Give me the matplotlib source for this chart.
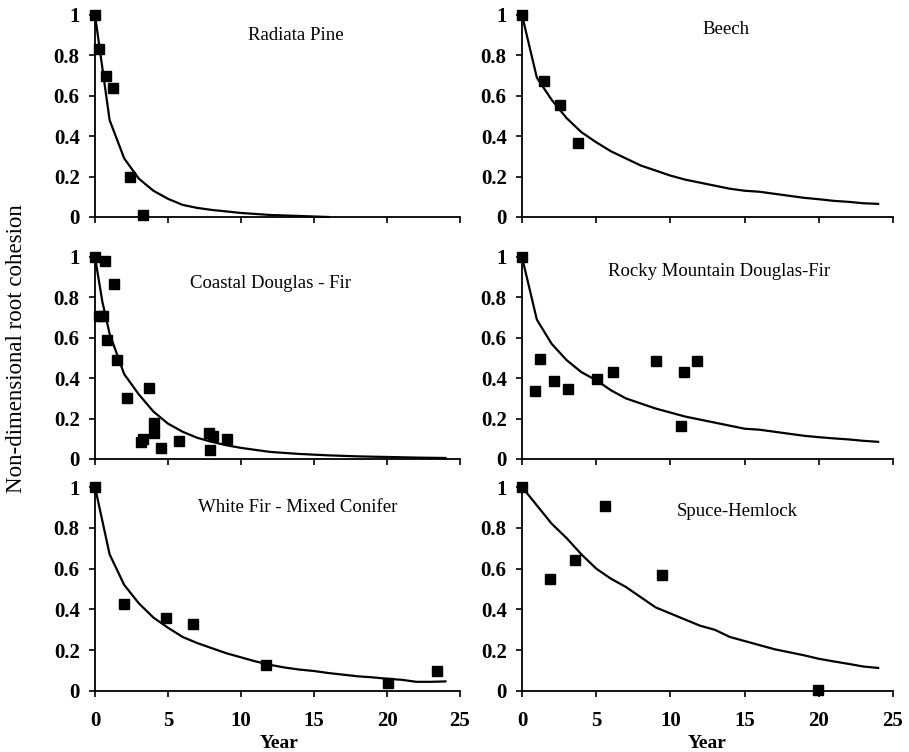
import matplotlib
matplotlib.use("Agg")
import matplotlib.pyplot as plt

plt.rcParams['font.family'] = ['Liberation Serif', 'DejaVu Serif']

#######################################
# Data
#######################################
names = ["Radiata Pine", "Beech", "Coastal Douglas - Fir",
         "Rocky Mountain Douglas-Fir", "White Fir - Mixed Conifer", "Spuce-Hemlock"]

# observed points
radiata_x = [0, 0.25, 0.75, 1.2, 2.4, 3.3]
radiata_y = [1.0, 0.83, 0.70, 0.64, 0.20, 0.01]
beech_x = [0, 1.45, 2.55, 3.75]
beech_y = [1.0, 0.675, 0.555, 0.368]
coastal_x = [0, 0.3, 0.55, 0.66, 0.8, 1.3, 1.52, 2.16, 3.12, 3.28, 3.69, 4.07, 4.07, 4.55, 5.78, 7.83, 7.85, 8.05, 9.03]
coastal_y = [1.0, 0.71, 0.71, 0.98, 0.587, 0.868, 0.488, 0.30, 0.083, 0.097, 0.353, 0.18, 0.13, 0.054, 0.089, 0.129, 0.046, 0.112, 0.099]
rocky_x = [0, 0.9, 1.19, 2.13, 3.1, 5.06, 6.13, 9.03, 10.74, 10.94, 11.8]
rocky_y = [1.0, 0.336, 0.493, 0.384, 0.349, 0.397, 0.433, 0.487, 0.163, 0.433, 0.487]
whitefir_x = [0, 1.96, 4.85, 6.74, 11.7, 20.1, 23.45]
whitefir_y = [1.0, 0.425, 0.358, 0.328, 0.126, 0.039, 0.10]
spruce_x = [0, 1.86, 3.59, 5.56, 9.42, 19.96]
spruce_y = [1.0, 0.549, 0.64, 0.905, 0.57, 0.003]

# fitted curves
radiata_cx = [0, 1, 2, 3, 4, 5, 6, 7, 8, 10, 12, 14, 16]
radiata_cy = [1.0, 0.48, 0.29, 0.19, 0.13, 0.09, 0.06, 0.045, 0.035, 0.02, 0.01, 0.005, 0.0]
years = list(range(25))
beech_cy = [1.0, 0.69, 0.58, 0.49, 0.42, 0.37, 0.325, 0.29, 0.255, 0.23, 0.205, 0.185, 0.17,
            0.155, 0.14, 0.13, 0.125, 0.115, 0.105, 0.095, 0.088, 0.08, 0.075, 0.068, 0.065]
coastal_cx = [0, 0.5, 1, 2, 3, 4, 5, 6, 7, 8, 9, 10, 12, 14, 16, 18, 20, 22, 24]
coastal_cy = [1.0, 0.78, 0.62, 0.42, 0.32, 0.235, 0.175, 0.135, 0.105, 0.085, 0.068, 0.055,
              0.035, 0.025, 0.018, 0.013, 0.01, 0.007, 0.005]
rocky_cy = [1.0, 0.69, 0.57, 0.49, 0.43, 0.39, 0.34, 0.30, 0.275, 0.25, 0.23, 0.21, 0.195,
            0.18, 0.165, 0.15, 0.145, 0.135, 0.125, 0.115, 0.108, 0.102, 0.097, 0.09, 0.085]
whitefir_cy = [1.0, 0.67, 0.52, 0.43, 0.36, 0.31, 0.265, 0.235, 0.21, 0.185, 0.165, 0.145, 0.128,
               0.115, 0.105, 0.098, 0.088, 0.08, 0.072, 0.067, 0.06, 0.055, 0.045, 0.045, 0.047]
spruce_cy = [1.0, 0.91, 0.82, 0.75, 0.67, 0.6, 0.55, 0.51, 0.46, 0.41, 0.38, 0.35, 0.32,
             0.30, 0.265, 0.245, 0.225, 0.205, 0.19, 0.175, 0.158, 0.145, 0.133, 0.12, 0.113]

points = [(radiata_x, radiata_y), (beech_x, beech_y), (coastal_x, coastal_y),
          (rocky_x, rocky_y), (whitefir_x, whitefir_y), (spruce_x, spruce_y)]
curves = [(radiata_cx, radiata_cy), (years, beech_cy), (coastal_cx, coastal_cy),
          (years, rocky_cy), (years, whitefir_cy), (years, spruce_cy)]
title_pos = [(0.55, 0.90), (0.55, 0.93), (0.48, 0.87), (0.53, 0.93), (0.556, 0.90), (0.58, 0.88)]

#######################################
# Layout
#######################################
W, H = 909, 752
col_x = [(95, 460), (522, 893)]
row_y = [(15, 217), (257, 459), (487, 691)]

fig = plt.figure(figsize=(W / 100, H / 100), dpi=100)

for i in range(6):
    r, c = divmod(i, 2)
    x0, x1 = col_x[c]
    y0, y1 = row_y[r]
    ax = fig.add_axes([x0 / W, 1 - y1 / H, (x1 - x0) / W, (y1 - y0) / H])

    cx, cy = curves[i]
    ax.plot(cx, cy, color='black', lw=1.6, clip_on=False)
    px, py = points[i]
    ax.plot(px, py, 's', color='black', ms=6.5, clip_on=False, zorder=5)

    ax.set_xlim(0, 25)
    ax.set_ylim(0, 1)
    ax.set_xticks([0, 5, 10, 15, 20, 25])
    ax.set_yticks([0, 0.2, 0.4, 0.6, 0.8, 1])
    ax.set_yticklabels(['0', '0.2', '0.4', '0.6', '0.8', '1'])
    for s in ['top', 'right']:
        ax.spines[s].set_visible(False)
    for s in ['left', 'bottom']:
        ax.spines[s].set_linewidth(1.3)
    ax.tick_params(direction='out', length=4, width=1.2, labelsize=15)
    ax.tick_params(axis='y', pad=7)
    ax.tick_params(axis='x', pad=10.5)
    for lab in ax.get_yticklabels() + ax.get_xticklabels():
        lab.set_fontweight('bold')
    if r < 2:
        ax.tick_params(axis='x', labelbottom=False)

    tx, ty = title_pos[i]
    ax.text(tx, ty, names[i], transform=ax.transAxes, ha='center', va='center', fontsize=13.5)

fig.text(279 / W, 1 - 744 / H, 'Year', ha='center', va='center', fontsize=14, fontweight='bold')
fig.text(707 / W, 1 - 744 / H, 'Year', ha='center', va='center', fontsize=14, fontweight='bold')
fig.text(17 / W, 1 - 349 / H, 'Non-dimensional root cohesion', rotation=90,
         ha='center', va='center', fontsize=16.5)

fig.savefig('out.png', dpi=100)
